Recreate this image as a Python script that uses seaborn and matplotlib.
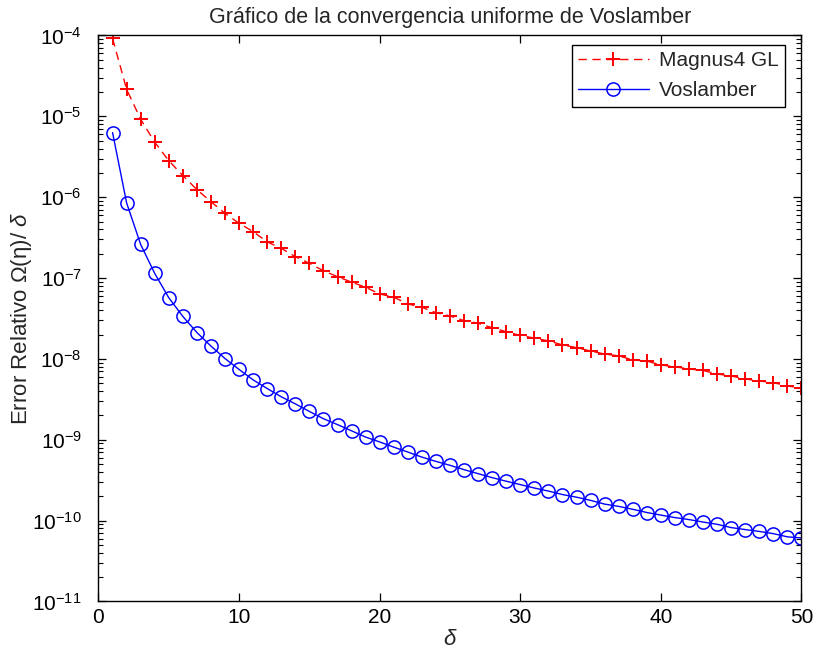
import numpy as np
import pandas as pd
import matplotlib
matplotlib.use("Agg")
import matplotlib.pyplot as plt
import seaborn as sns
from matplotlib.ticker import LogLocator, FixedLocator

# Step sizes
delta = list(range(1, 51))

# Relative error, Magnus 4th order Gauss-Legendre
magnus4_gl = [
    9.2e-5, 2.16e-5, 9.2e-6, 4.78e-6, 2.83e-6, 1.85e-6, 1.24e-6, 8.8e-7, 6.3e-7, 4.75e-7,
    3.75e-7, 2.8e-7, 2.33e-7, 1.84e-7, 1.52e-7, 1.23e-7, 1.04e-7, 8.9e-8, 7.7e-8, 6.35e-8,
    5.8e-8, 4.78e-8, 4.35e-8, 3.73e-8, 3.4e-8, 2.97e-8, 2.76e-8, 2.43e-8, 2.17e-8, 1.95e-8,
    1.81e-8, 1.67e-8, 1.49e-8, 1.38e-8, 1.25e-8, 1.15e-8, 1.09e-8, 9.7e-9, 9.4e-9, 8.4e-9,
    8.0e-9, 7.5e-9, 7.2e-9, 6.5e-9, 6.15e-9, 5.65e-9, 5.33e-9, 5.08e-9, 4.63e-9, 4.34e-9,
]

# Relative error, Voslamber scheme
voslamber = [
    6.3e-6, 8.5e-7, 2.6e-7, 1.14e-7, 5.7e-8, 3.35e-8, 2.12e-8, 1.44e-8, 1.01e-8, 7.4e-9,
    5.5e-9, 4.3e-9, 3.4e-9, 2.78e-9, 2.24e-9, 1.82e-9, 1.54e-9, 1.29e-9, 1.08e-9, 9.4e-10,
    8.1e-10, 7.05e-10, 6.1e-10, 5.4e-10, 4.83e-10, 4.27e-10, 3.81e-10, 3.4e-10, 3.07e-10, 2.79e-10,
    2.53e-10, 2.32e-10, 2.1e-10, 1.95e-10, 1.78e-10, 1.6e-10, 1.5e-10, 1.38e-10, 1.26e-10, 1.17e-10,
    1.09e-10, 1.03e-10, 9.6e-11, 9.0e-11, 8.2e-11, 7.75e-11, 7.35e-11, 6.9e-11, 6.3e-11, 6.1e-11,
]

x_ticks = [0, 10, 20, 30, 40, 50]
y_ticks = [1e-11, 1e-10, 1e-9, 1e-8, 1e-7, 1e-6, 1e-5, 1e-4]

sns.set_style("white")
plt.rcParams["font.family"] = ["Liberation Sans", "DejaVu Sans"]
plt.rcParams["mathtext.fontset"] = "custom"
plt.rcParams["mathtext.rm"] = "Liberation Sans"
plt.rcParams["mathtext.it"] = "Liberation Sans:italic"
plt.rcParams["mathtext.default"] = "rm"

fig = plt.figure(figsize=(8.14, 6.63), dpi=100)
ax = fig.add_axes([0.121, 0.0928, 0.8636, 0.8537])

df = pd.DataFrame({"delta": delta, "magnus": magnus4_gl, "voslamber": voslamber})

sns.lineplot(data=df, x="delta", y="magnus", ax=ax, color="#ff0000",
             linestyle=(0, (6, 4)), linewidth=1.0, marker="+", markersize=10.5,
             markeredgecolor="#ff0000", markeredgewidth=1.4, label="Magnus4 GL")
sns.lineplot(data=df, x="delta", y="voslamber", ax=ax, color="#0000ff",
             linestyle="-", linewidth=1.0, marker="o", markersize=9.5,
             markerfacecolor="none", markeredgecolor="#0000ff",
             markeredgewidth=1.1, label="Voslamber")

ax.set_yscale("log")
ax.set_xlim(0, 50)
ax.set_ylim(1e-11, 1e-4)
ax.xaxis.set_major_locator(FixedLocator(x_ticks))
ax.yaxis.set_major_locator(FixedLocator(y_ticks))
ax.yaxis.set_minor_locator(LogLocator(base=10, subs=np.arange(2, 10), numticks=20))

for side in ["top", "right", "bottom", "left"]:
    ax.spines[side].set_visible(True)
    ax.spines[side].set_color("black")
    ax.spines[side].set_linewidth(1.0)

ax.tick_params(axis="both", which="both", direction="in", top=True, right=True,
               bottom=True, left=True, colors="black", labelsize=15)
ax.tick_params(axis="both", which="major", length=6, width=0.9)
ax.tick_params(axis="y", which="minor", length=3.5, width=0.8)
ax.tick_params(axis="x", which="major", pad=5)
ax.tick_params(axis="y", which="major", pad=12)

ax.set_title("Gráfico de la convergencia uniforme de Voslamber", fontsize=15.5, pad=9)
ax.set_xlabel(r"$\it{\delta}$", fontsize=16, labelpad=1)
ax.set_ylabel(r"Error Relativo $\it{\Omega}$($\eta$)/ $\it{\delta}$", fontsize=16)
ax.yaxis.set_label_coords(-0.092, 0.5)

leg = ax.legend(loc="upper right", fontsize=15, frameon=True, fancybox=False,
                edgecolor="black", framealpha=1, borderaxespad=0,
                bbox_to_anchor=(785 / 814, 1 - 45 / 663), bbox_transform=fig.transFigure,
                handlelength=3.4, borderpad=0.3, labelspacing=0.54, handletextpad=0.5)
leg.get_frame().set_linewidth(1.0)

fig.savefig("out.png", dpi=100)
